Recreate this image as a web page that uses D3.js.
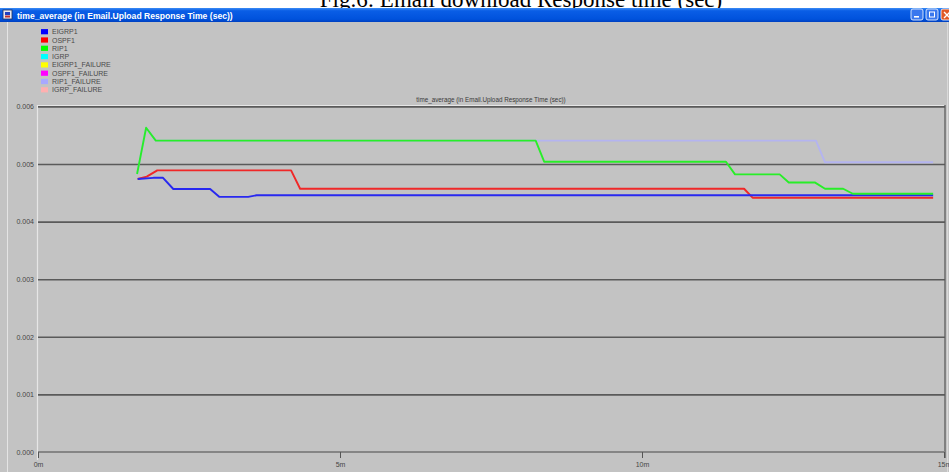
<!DOCTYPE html>
<html><head><meta charset="utf-8">
<script src="https://cdn.jsdelivr.net/npm/d3@7"></script>
<style>body{margin:0;background:#fff}svg{display:block}</style>
</head><body>
<svg id="c" width="949" height="472"></svg>
<script>
// ---- data ----
const figTitle = "Fig.6: Email download Response time (sec)";
const windowTitle = "time_average (in Email.Upload Response Time (sec))";
const plotTitle = "time_average (in Email.Upload Response Time (sec))";
const legendNames = ["EIGRP1","OSPF1","RIP1","IGRP","EIGRP1_FAILURE","OSPF1_FAILURE","RIP1_FAILURE","IGRP_FAILURE"];
const legendColors = ["#0000ff","#ff0000","#00ff00","#00ffff","#ffff00","#ff00ff","#a8a8ff","#ffb0b0"];
const yTicks = [0,0.001,0.002,0.003,0.004,0.005,0.006];
const yTickLabels = ["0.000","0.001","0.002","0.003","0.004","0.005","0.006"];
const xTicks = [0,5,10,15];
const xTickLabels = ["0m","5m","10m","15m"];
// times in minutes, values in seconds
const eigrpTime  = [1.65,1.91,2.07,2.24,2.85,3.00,3.48,3.62,14.82];
const eigrpValue = [0.00474,0.00476,0.00476,0.004566,0.004566,0.00443,0.00443,0.004457,0.004457];
const ospfTime   = [1.65,1.80,1.975,4.19,4.34,11.69,11.83,14.82];
const ospfValue  = [0.00474,0.00478,0.00489,0.00489,0.00457,0.00457,0.004415,0.004415];
const ripTime    = [1.64,1.79,1.95,8.24,8.38,11.39,11.54,12.28,12.43,12.86,13.03,13.33,13.49,14.82];
const ripValue   = [0.004826,0.00563,0.005405,0.005405,0.00504,0.00504,0.00482,0.00482,0.00468,0.00468,0.00457,0.00457,0.004484,0.004484];
const ripFailTime  = [1.64,1.79,1.95,12.88,13.03,14.82];
const ripFailValue = [0.004826,0.00563,0.005405,0.005405,0.00503,0.00503];

const seriesList = [
  {t: ripFailTime, v: ripFailValue, color: "#b4b4f0"},
  {t: ospfTime, v: ospfValue, color: "#f02828"},
  {t: eigrpTime, v: eigrpValue, color: "#2828f0"},
  {t: ripTime, v: ripValue, color: "#28ee28"}
];

// ---- drawing ----
const svg = d3.select("#c");
const W = 949, H = 472;
const x = d3.scaleLinear().domain([0,15]).range([38,944]);
const y = d3.scaleLinear().domain([0,0.006]).range([452,106.4]);

// figure caption (cropped at top, as in the reference)
svg.append("text").attr("x",521).attr("y",7).attr("text-anchor","middle")
  .attr("font-family","'Liberation Serif', 'DejaVu Serif', serif").attr("font-size",23)
  .attr("fill","#000").text(figTitle);

// window body
svg.append("rect").attr("x",0).attr("y",22).attr("width",W).attr("height",H-22).attr("fill","#c3c3c3");
svg.append("line").attr("x1",7.5).attr("x2",7.5).attr("y1",22).attr("y2",H).attr("stroke","#e4e4e4").attr("stroke-width",1);
svg.append("line").attr("x1",947.5).attr("x2",947.5).attr("y1",22).attr("y2",H).attr("stroke","#dadada").attr("stroke-width",1);

// title bar
const defs = svg.append("defs");
const g1 = defs.append("linearGradient").attr("id","tb").attr("x1",0).attr("y1",0).attr("x2",0).attr("y2",1);
g1.append("stop").attr("offset","0%").attr("stop-color","#3b8cf5");
g1.append("stop").attr("offset","20%").attr("stop-color","#0a5ee6");
g1.append("stop").attr("offset","80%").attr("stop-color","#0052dc");
g1.append("stop").attr("offset","100%").attr("stop-color","#0040c0");
svg.append("rect").attr("x",0).attr("y",8).attr("width",W).attr("height",14).attr("fill","url(#tb)");
// icon
svg.append("rect").attr("x",3).attr("y",10).attr("width",9).attr("height",9).attr("fill","#e8e8f0").attr("stroke","#203060").attr("stroke-width",0.8);
svg.append("rect").attr("x",5).attr("y",12).attr("width",5).attr("height",3).attr("fill","#2040c0");
svg.append("rect").attr("x",5).attr("y",15.5).attr("width",5).attr("height",2).attr("fill","#c03030");
svg.append("text").attr("x",17).attr("y",18.6)
  .attr("font-family","'Liberation Sans', Arial, sans-serif").attr("font-weight","bold").attr("font-size",8.6)
  .attr("fill","#ffffff").text(windowTitle);
// window buttons
const btns = [{x:911,c:"#3a78ee"},{x:926,c:"#3a78ee"},{x:941,c:"#e05a28"}];
btns.forEach(b=>{
  svg.append("rect").attr("x",b.x).attr("y",9).attr("width",12).attr("height",11).attr("rx",2)
    .attr("fill",b.c).attr("stroke","#ffffff").attr("stroke-width",0.8);
});
svg.append("rect").attr("x",914).attr("y",16).attr("width",5).attr("height",1.6).attr("fill","#fff");
svg.append("rect").attr("x",929.5).attr("y",12).attr("width",5).attr("height",5).attr("fill","none").attr("stroke","#fff").attr("stroke-width",1);
svg.append("path").attr("d","M944,12 L950,18 M950,12 L944,18").attr("stroke","#fff").attr("stroke-width",1.4);

// legend
const lg = svg.append("g");
legendNames.forEach((n,i)=>{
  const cy = 31.7 + i*8.3;
  lg.append("rect").attr("x",41).attr("y",cy-2.6).attr("width",7).attr("height",5.2).attr("fill",legendColors[i]);
  lg.append("text").attr("x",52).attr("y",cy+2.5)
    .attr("font-family","'Liberation Sans', Arial, sans-serif").attr("font-size",7)
    .attr("fill","#4a4a4a").text(n);
});

// plot title
svg.append("text").attr("x",491).attr("y",102).attr("text-anchor","middle")
  .attr("font-family","'Liberation Sans', Arial, sans-serif").attr("font-size",6.3)
  .attr("fill","#3a3a3a").text(plotTitle);

// plot border (3D look)
svg.append("line").attr("x1",37).attr("x2",945).attr("y1",105.5).attr("y2",105.5).attr("stroke","#e6e6e6").attr("stroke-width",1.2);
svg.append("line").attr("x1",37.5).attr("x2",37.5).attr("y1",105).attr("y2",460).attr("stroke","#e6e6e6").attr("stroke-width",1.2);
svg.append("line").attr("x1",945).attr("x2",945).attr("y1",105).attr("y2",458).attr("stroke","#6a6a6a").attr("stroke-width",1.5);

// horizontal grid via axis
const grid = svg.append("g").attr("transform","translate(38,0)")
  .call(d3.axisLeft(y).tickValues(yTicks.filter(d=>d>0)).tickSize(-(945-38)).tickFormat(""));
grid.select(".domain").remove();
grid.selectAll(".tick line").attr("stroke","#5a5a5a").attr("stroke-width",1.6);

// y labels
const yAx = svg.append("g").attr("transform","translate(34,0)")
  .call(d3.axisLeft(y).tickValues(yTicks).tickSize(0).tickPadding(0).tickFormat((d,i)=>yTickLabels[i]));
yAx.select(".domain").remove();
yAx.selectAll("text").attr("font-family","'Liberation Sans', Arial, sans-serif").attr("font-size",7).attr("fill","#454545");

// x axis
const xAx = svg.append("g").attr("transform","translate(0,452)")
  .call(d3.axisBottom(x).tickValues(xTicks).tickSize(6).tickPadding(4).tickFormat((d,i)=>xTickLabels[i]));
xAx.select(".domain").attr("stroke","#858585").attr("stroke-width",1.8).attr("d","M38,0H945");
xAx.selectAll(".tick line").attr("stroke","#555").attr("stroke-width",1);
xAx.selectAll("text").attr("font-family","'Liberation Sans', Arial, sans-serif").attr("font-size",7).attr("fill","#454545");

// series lines
const line = d3.line().x(d=>x(d[0])).y(d=>y(d[1]));
seriesList.forEach(s=>{
  const pts = s.t.map((t,i)=>[t,s.v[i]]);
  svg.append("path").datum(pts).attr("d",line).attr("fill","none")
    .attr("stroke",s.color).attr("stroke-width",1.9).attr("stroke-linejoin","round");
});
</script>
</body></html>
